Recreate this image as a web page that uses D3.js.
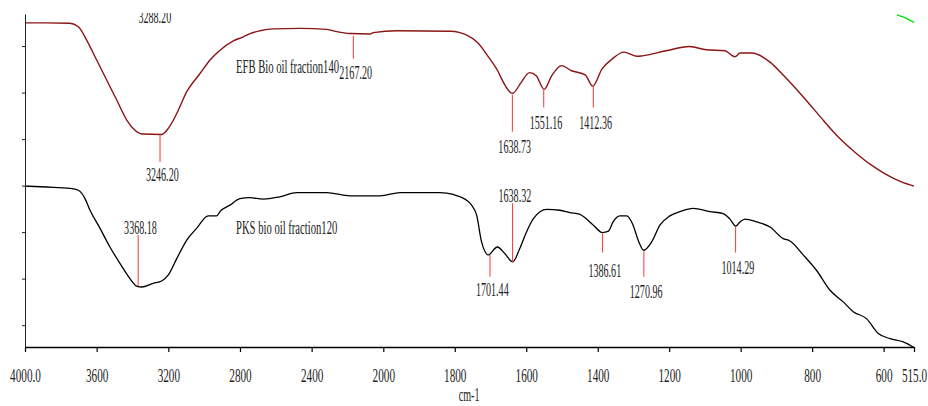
<!DOCTYPE html>
<html>
<head>
<meta charset="utf-8">
<script src="https://cdn.jsdelivr.net/npm/d3@7"></script>
<style>
  html, body { margin: 0; padding: 0; background: #fff; }
  svg { display: block; font-family: "Liberation Serif", "Times New Roman", serif; }
</style>
</head>
<body>
<script>
// ---------------- DATA ----------------
const efbWn = [4000, 3888, 3749, 3702, 3656, 3600, 3544, 3488, 3432, 3386, 3349, 3237, 3200, 3153, 3097, 3023, 2967, 2921, 2837, 2781, 2744, 2688, 2614, 2465, 2316, 2260, 2186, 2074, 2056, 1962, 1812, 1765, 1737, 1708, 1680, 1661, 1639, 1614, 1591, 1572, 1550, 1529, 1501, 1473, 1435, 1414, 1388, 1360, 1327, 1291, 1275, 1209, 1143, 1096, 1044, 1016, 1002, 969, 917, 879, 823, 766, 729, 682, 634, 597, 550, 515];
const efbT  = [75.0, 75.0, 74.9, 74.15, 71.3, 67.0, 62.7, 58.4, 54.1, 51.9, 51.1, 51.0, 52.3, 55.5, 60.2, 64.1, 67.0, 68.8, 71.1, 72.0, 72.7, 73.3, 73.7, 73.8, 73.6, 73.1, 72.7, 72.6, 72.9, 73.3, 73.2, 72.3, 70.8, 67.9, 64.7, 61.8, 59.8, 62.2, 64.3, 63.6, 60.7, 63.6, 65.8, 64.7, 63.8, 61.4, 65.1, 67.2, 68.7, 67.8, 67.9, 69.0, 69.9, 69.2, 69.0, 67.7, 68.5, 68.5, 66.5, 63.6, 58.9, 53.8, 50.6, 47.3, 44.4, 42.6, 40.8, 39.9];

const pksWn = [4000, 3879, 3749, 3702, 3665, 3637, 3581, 3526, 3470, 3414, 3377, 3349, 3284, 3237, 3200, 3153, 3097, 3042, 2977, 2930, 2912, 2856, 2800, 2744, 2670, 2577, 2484, 2316, 2186, 2018, 1953, 1842, 1804, 1785, 1753, 1739, 1725, 1706, 1681, 1660, 1638, 1618, 1599, 1580, 1543, 1506, 1478, 1450, 1412, 1387, 1370, 1357, 1338, 1319, 1301, 1287, 1271, 1249, 1226, 1198, 1170, 1133, 1086, 1049, 1030, 1014, 1002, 988, 955, 918, 881, 862, 825, 788, 750, 713, 685, 648, 615, 582, 545, 515];
const pksT  = [39.9, 39.7, 39.4, 39.0, 37.2, 34.7, 30.8, 26.8, 23.3, 20.0, 18.4, 18.2, 19.0, 19.5, 20.8, 24.3, 28.3, 30.8, 33.5, 33.5, 34.4, 35.8, 37.2, 37.4, 37.1, 37.6, 38.5, 38.5, 37.8, 37.8, 38.5, 38.5, 38.1, 37.6, 35.8, 33.7, 27.9, 25.1, 26.8, 25.4, 23.6, 26.5, 30.1, 32.9, 34.9, 34.7, 34.2, 33.8, 31.5, 29.9, 30.2, 32.2, 33.5, 33.5, 31.5, 28.3, 26.1, 27.9, 31.5, 33.5, 34.4, 35.1, 34.4, 34.0, 32.8, 31.3, 32.2, 32.8, 32.2, 31.1, 28.6, 28.1, 25.1, 21.8, 17.5, 15.0, 12.9, 11.4, 8.2, 7.1, 6.4, 5.2];

const greenWn = [563, 540, 515];
const greenT  = [76.7, 76.1, 75.1];

// peak annotations (wavenumber, marker line from/to in %T, label baseline in %T)
const efbPeakWn     = [3246.20, 2167.20, 1638.73, 1551.16, 1412.36];
const efbPeakFrom   = [50.9, 72.2, 59.5, 60.9, 61.6];
const efbPeakTo     = [45.1, 67.3, 51.6, 56.8, 56.8];
const efbPeakLabelT = [40.9, 62.9, 47.1, 52.2, 52.2];

const pksPeakWn     = [3368.18, 1701.44, 1638.32, 1386.61, 1270.96, 1014.29];
const pksPeakFrom   = [18.4, 25.1, 23.6, 29.7, 25.9, 31.1];
const pksPeakTo     = [29.4, 20.4, 36.2, 25.6, 20.4, 25.6];
const pksPeakLabelT = [29.7, 16.3, 36.5, 20.4, 15.8, 21.0];

const extraLabelWn = [3288.20];
const extraLabelT  = [75.0];

const seriesNames = ["EFB Bio oil fraction140", "PKS bio oil fraction120"];
const xTickValues = [4000, 3600, 3200, 2800, 2400, 2000, 1800, 1600, 1400, 1200, 1000, 800, 600, 515];
const xTickLabels = ["4000.0", "3600", "3200", "2800", "2400", "2000", "1800", "1600", "1400", "1200", "1000", "800", "600", "515.0"];
const yTickValues = [10, 20, 30, 40, 50, 60, 70];
const xTitle = "cm-1";

// ---------------- LAYOUT ----------------
const W = 928, H = 406;
const L = 25, R = 914, T = 14, B = 347;
const SX = 0.56;           // condensed text
const textColor = "#222";
const peakColor = "#f24a4a";

const svg = d3.select("body").append("svg").attr("width", W).attr("height", H);

const x = d3.scaleLinear().domain([4000, 2000, 515]).range([L, 383.3, R]);
const y = d3.scaleLinear().domain([5.3, 76.9]).range([B, T]);

svg.append("defs").append("clipPath").attr("id", "plotclip")
  .append("rect").attr("x", L).attr("y", T - 1).attr("width", R - L + 1).attr("height", B - T + 1);

const plot = svg.append("g").attr("clip-path", "url(#plotclip)");

function ctext(g, px, py, str, size, anchor) {
  return g.append("text")
    .attr("transform", `translate(${px},${py}) scale(${SX},1)`)
    .attr("text-anchor", anchor || "middle")
    .attr("font-size", size)
    .attr("fill", textColor)
    .text(str);
}

const line = d3.line().x(d => x(d[0])).y(d => y(d[1])).curve(d3.curveMonotoneX);
const straight = d3.line().x(d => x(d[0])).y(d => y(d[1]));

// axes
const xAxis = d3.axisBottom(x).tickValues(xTickValues)
  .tickFormat((d, i) => xTickLabels[i]).tickSize(5).tickSizeOuter(0);
const gx = svg.append("g").attr("transform", `translate(0,${B})`).call(xAxis);
gx.select(".domain").attr("stroke", "#000").attr("stroke-width", 1.6);
gx.selectAll(".tick line").attr("stroke", "#000").attr("stroke-width", 1.2);
gx.selectAll(".tick text")
  .attr("y", 0).attr("dy", 0)
  .attr("transform", `translate(0,35) scale(${SX + 0.03},1)`)
  .attr("font-size", 19).attr("font-family", null).attr("fill", textColor);
gx.attr("font-family", null);

const yAxis = d3.axisLeft(y).tickValues(yTickValues).tickFormat("").tickSize(3).tickSizeOuter(0);
const gy = svg.append("g").attr("transform", `translate(${L},0)`).call(yAxis);
gy.select(".domain").attr("stroke", "#222").attr("stroke-width", 1);
gy.selectAll(".tick line").attr("stroke", "#222");

ctext(svg, x(1760), 401, xTitle, 18);

// curves
plot.append("path").datum(d3.zip(efbWn, efbT)).attr("d", line)
  .attr("fill", "none").attr("stroke", "#8b1414").attr("stroke-width", 1.4);
plot.append("path").datum(d3.zip(pksWn, pksT)).attr("d", line)
  .attr("fill", "none").attr("stroke", "#000").attr("stroke-width", 1.3);
plot.append("path").datum(d3.zip(greenWn, greenT)).attr("d", straight)
  .attr("fill", "none").attr("stroke", "#00e000").attr("stroke-width", 1.3);

// peak markers
function peaks(wn, from, to, lab) {
  wn.forEach((w, i) => {
    plot.append("line")
      .attr("x1", x(w)).attr("x2", x(w))
      .attr("y1", y(from[i])).attr("y2", y(to[i]))
      .attr("stroke", peakColor).attr("stroke-width", 1.1);
    ctext(plot, x(w) + 2.3, y(lab[i]), w.toFixed(2), 18);
  });
}
peaks(efbPeakWn, efbPeakFrom, efbPeakTo, efbPeakLabelT);
peaks(pksPeakWn, pksPeakFrom, pksPeakTo, pksPeakLabelT);
extraLabelWn.forEach((w, i) => ctext(plot, x(w) + 2.3, y(extraLabelT[i]), w.toFixed(2), 18));

// series names
ctext(plot, x(2822), y(64.2), seriesNames[0], 19, "start");
ctext(plot, x(2822), y(29.6), seriesNames[1], 19, "start");
</script>
</body>
</html>
